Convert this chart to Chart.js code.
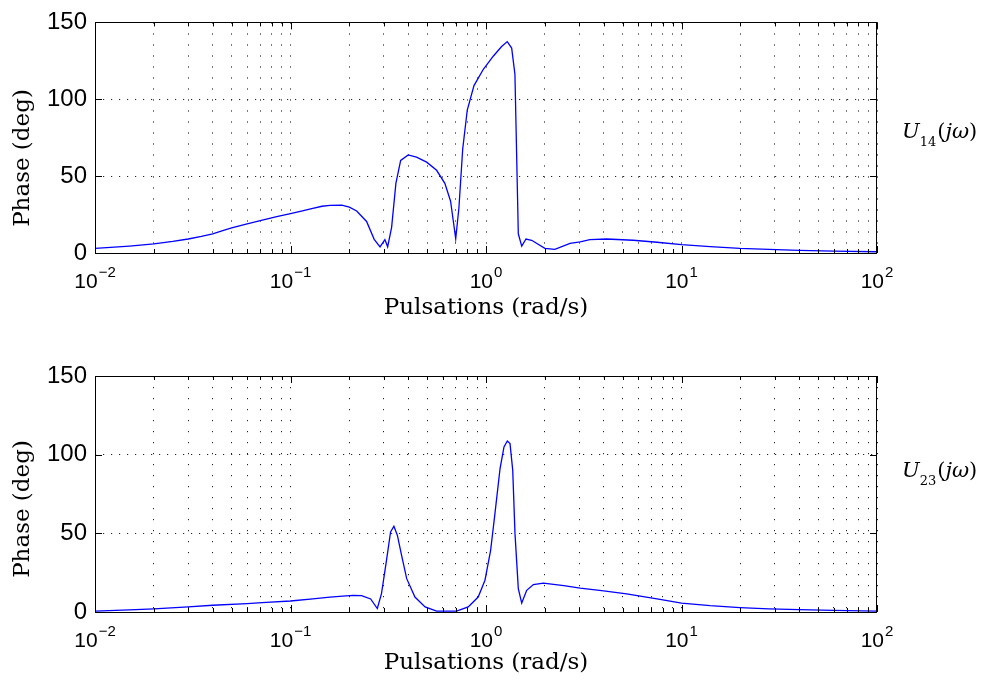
<!DOCTYPE html>
<html>
<head>
<meta charset="utf-8">
<script src="https://cdn.jsdelivr.net/npm/chart.js@4/dist/chart.umd.min.js"></script>
<style>
html,body{margin:0;padding:0;background:#fff;width:989px;height:686px;overflow:hidden}
.wrap{position:absolute;left:0;width:989px;height:343px}
canvas{display:block}
</style>
</head>
<body>
<div class="wrap" style="top:0"><canvas id="c1" width="989" height="343"></canvas></div>
<div class="wrap" style="top:343px"><canvas id="c2" width="989" height="343"></canvas></div>
<script>
// ---- data ----
const u14Freq  = [0.01, 0.012, 0.015, 0.02, 0.025, 0.03, 0.035, 0.04, 0.045, 0.05, 0.06, 0.07, 0.085, 0.1, 0.115, 0.13, 0.145, 0.159, 0.183, 0.2, 0.218, 0.245, 0.268, 0.287, 0.304, 0.314, 0.329, 0.346, 0.366, 0.400, 0.441, 0.497, 0.559, 0.616, 0.659, 0.680, 0.700, 0.727, 0.760, 0.802, 0.868, 0.969, 1.089, 1.202, 1.284, 1.353, 1.406, 1.463, 1.523, 1.602, 1.712, 2.00, 2.25, 2.69, 3.03, 3.40, 4.14, 5.66, 7.5, 10, 14, 19.9, 28, 40, 60, 100];
const u14Phase = [3.0, 3.6, 4.5, 6.0, 7.5, 9.1, 10.8, 12.5, 14.5, 16.3, 18.9, 21.0, 23.6, 25.6, 27.4, 29.1, 30.4, 31.0, 31.1, 29.8, 27.3, 20.5, 8.9, 4.0, 8.7, 4.0, 16.7, 45.3, 60.2, 63.8, 62.3, 59.1, 53.8, 45.3, 33.7, 21.0, 9.3, 29.4, 67.6, 93.0, 108.9, 119.5, 128.0, 134.3, 137.5, 133.3, 116.3, 12.5, 4.5, 9.1, 8.3, 3.0, 2.4, 6.2, 7.2, 8.7, 9.1, 8.3, 7.0, 5.5, 4.2, 3.0, 2.3, 1.7, 1.2, 0.8];

const u23Freq  = [0.01, 0.015, 0.02, 0.03, 0.04, 0.06, 0.075, 0.1, 0.13, 0.159, 0.185, 0.209, 0.231, 0.257, 0.278, 0.292, 0.308, 0.325, 0.338, 0.352, 0.370, 0.393, 0.433, 0.488, 0.559, 0.707, 0.811, 0.912, 0.988, 1.056, 1.111, 1.180, 1.236, 1.285, 1.327, 1.370, 1.407, 1.463, 1.523, 1.615, 1.747, 1.965, 2.5, 3.03, 4.0, 5.24, 7.76, 10, 14, 19.9, 28, 40, 60, 100];
const u23Phase = [0.6, 1.3, 2.0, 3.2, 4.3, 5.3, 6.1, 7.0, 8.4, 9.5, 10.1, 10.6, 10.4, 8.3, 2.2, 11.7, 30.8, 50.9, 54.5, 48.8, 36.0, 21.2, 9.5, 3.2, 0.6, 0.6, 3.2, 9.5, 20.2, 39.2, 62.5, 91.2, 104.9, 108.7, 107.0, 90.1, 49.8, 14.9, 5.7, 13.8, 17.4, 18.4, 16.8, 15.2, 13.4, 11.5, 8.0, 5.7, 4.0, 2.8, 2.0, 1.5, 1.0, 0.6];

const yTickValues = [0, 50, 100, 150];
const xDecades = [0.01, 0.1, 1, 10, 100];
const xDecadeExponents = ['\u22122', '\u22121', '0', '1', '2'];
const yAxisTitle = 'Phase (deg)';
const xAxisTitle = 'Pulsations (rad/s)';
const seriesNames = [['U', '14'], ['U', '23']];

// grid positions on the log axis: decades plus 2..9 minors
const xGridValues = [];
for (let d = 0; d < xDecades.length - 1; d++) {
  for (let m = 1; m <= 9; m++) xGridValues.push(Number((m * xDecades[d]).toPrecision(4)));
}
xGridValues.push(xDecades[xDecades.length - 1]);
const isDecade = v => xDecades.some(d => Math.abs(d - v) / d < 1e-6);

function makePlugin(yTitleCenter, nameBaseline, name) {
  return {
    id: 'matlabFrame',
    afterDraw(chart) {
      const {ctx, chartArea: a, scales: {x, y}} = chart;
      ctx.save();
      ctx.strokeStyle = '#000';
      ctx.lineWidth = 1;
      ctx.setLineDash([]);
      // inward tick marks on all four sides
      ctx.beginPath();
      xGridValues.forEach(v => {
        const px = Math.round(x.getPixelForValue(v)) + 0.5;
        const len = isDecade(v) ? 7 : 4;
        ctx.moveTo(px, a.bottom); ctx.lineTo(px, a.bottom - len);
        ctx.moveTo(px, a.top); ctx.lineTo(px, a.top + len);
      });
      yTickValues.forEach(v => {
        const py = Math.round(y.getPixelForValue(v)) + 0.5;
        ctx.moveTo(a.left, py); ctx.lineTo(a.left + 7, py);
        ctx.moveTo(a.right, py); ctx.lineTo(a.right - 7, py);
      });
      ctx.stroke();
      // axes box
      ctx.strokeRect(Math.round(a.left) + 0.5, Math.round(a.top) + 0.5,
                     Math.round(a.right - a.left) - 1, Math.round(a.bottom - a.top));
      // x tick labels 10^n
      ctx.fillStyle = '#000';
      ctx.textAlign = 'left';
      ctx.textBaseline = 'alphabetic';
      xDecades.forEach((v, i) => {
        const px = x.getPixelForValue(v);
        ctx.font = '21px "Liberation Sans", Arial, sans-serif';
        const w1 = ctx.measureText('10').width;
        ctx.font = '15px "Liberation Sans", Arial, sans-serif';
        const w2 = ctx.measureText(xDecadeExponents[i]).width;
        const start = px - (w1 + 1 + w2) / 2;
        ctx.font = '21px "Liberation Sans", Arial, sans-serif';
        ctx.fillText('10', start, a.bottom + 35);
        ctx.font = '15px "Liberation Sans", Arial, sans-serif';
        ctx.fillText(xDecadeExponents[i], start + w1 + 1, a.bottom + 24);
      });
      // series name on the right, e.g. U_14(jω)
      let cx = 902;
      ctx.font = 'italic 21px "DejaVu Serif", serif';
      ctx.fillText(name[0], cx, nameBaseline); cx += ctx.measureText(name[0]).width;
      ctx.font = '13px "DejaVu Serif", serif';
      ctx.fillText(name[1], cx, nameBaseline + 8); cx += ctx.measureText(name[1]).width + 1;
      ctx.font = '21px "DejaVu Serif", serif';
      ctx.fillText('(', cx, nameBaseline); cx += ctx.measureText('(').width;
      ctx.font = 'italic 21px "DejaVu Serif", serif';
      ctx.fillText('j\u03c9', cx, nameBaseline); cx += ctx.measureText('j\u03c9').width;
      ctx.font = '21px "DejaVu Serif", serif';
      ctx.fillText(')', cx, nameBaseline);
      // y axis title
      ctx.translate(23, yTitleCenter);
      ctx.rotate(-Math.PI / 2);
      ctx.font = '23px "DejaVu Serif", serif';
      ctx.textAlign = 'center';
      ctx.textBaseline = 'middle';
      ctx.fillText(yAxisTitle, 0, 0);
      ctx.restore();
    }
  };
}

function makeChart(id, freq, phase, cfg) {
  return new Chart(document.getElementById(id), {
    type: 'line',
    data: {
      datasets: [{
        data: freq.map((f, i) => ({x: f, y: phase[i]})),
        borderColor: '#0000ff',
        borderWidth: 1.3,
        pointRadius: 0,
        tension: 0,
        fill: false
      }]
    },
    plugins: [makePlugin(cfg.yTitleCenter, cfg.nameBaseline, cfg.name)],
    options: {
      responsive: false,
      animation: false,
      events: [],
      layout: {padding: {top: cfg.padTop, right: 112, left: 0, bottom: 0}},
      plugins: {legend: {display: false}, tooltip: {enabled: false}},
      scales: {
        x: {
          type: 'logarithmic',
          position: 'bottom',
          min: 0.01,
          max: 100,
          afterBuildTicks: s => { s.ticks = xGridValues.map(v => ({value: v})); },
          afterFit: s => { s.height = cfg.xHeight; },
          ticks: {display: false},
          grid: {color: '#222', lineWidth: 1, drawTicks: false},
          border: {display: false, dash: [1.2, 9.8]},
          title: {
            display: true,
            text: xAxisTitle,
            color: '#000',
            font: {family: '"DejaVu Serif", serif', size: 23},
            padding: {top: 0, bottom: cfg.titlePad}
          }
        },
        y: {
          type: 'linear',
          min: 0,
          max: 150,
          afterBuildTicks: s => { s.ticks = yTickValues.map(v => ({value: v})); },
          afterFit: s => { s.width = 95; },
          ticks: {
            color: '#000',
            padding: 8,
            font: {family: '"Liberation Sans", Arial, sans-serif', size: 24}
          },
          grid: {color: '#222', lineWidth: 1, drawTicks: false},
          border: {display: false, dash: [1.2, 6.8]}
        }
      }
    }
  });
}

makeChart('c1', u14Freq, u14Phase, {padTop: 17, xHeight: 90, titlePad: 21, yTitleCenter: 158, nameBaseline: 138, name: seriesNames[0]});
makeChart('c2', u23Freq, u23Phase, {padTop: 33, xHeight: 74, titlePad: 9, yTitleCenter: 166, nameBaseline: 134, name: seriesNames[1]});
</script>
</body>
</html>
